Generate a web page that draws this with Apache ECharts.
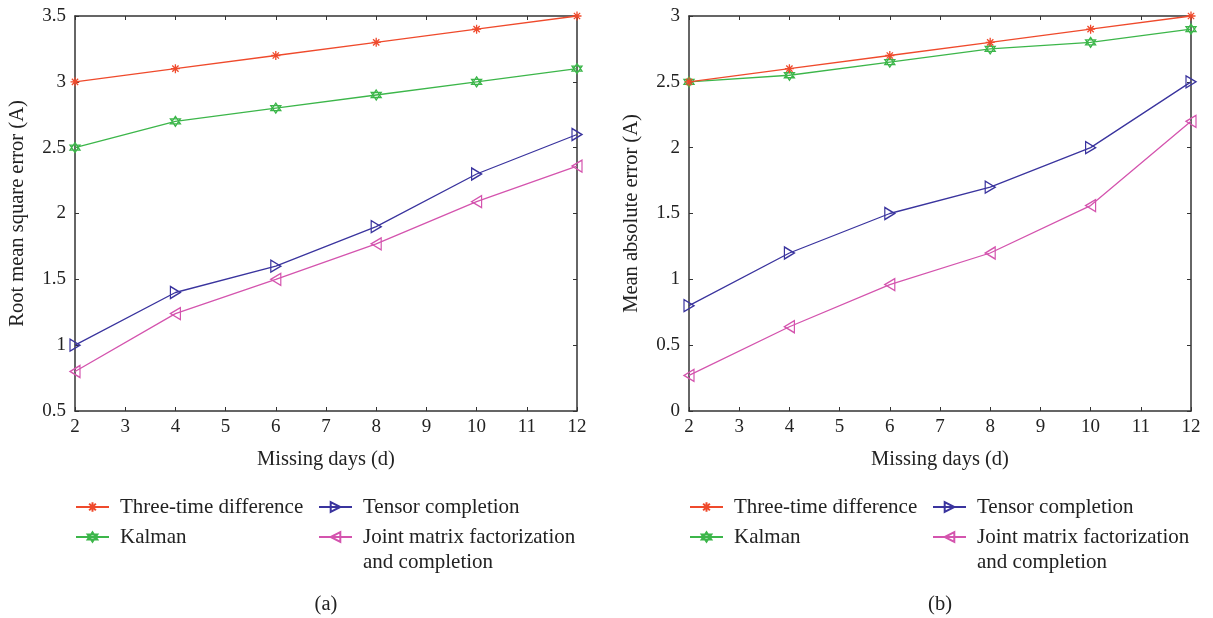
<!DOCTYPE html>
<html>
<head>
<meta charset="utf-8">
<script src="https://cdn.jsdelivr.net/npm/echarts@6/dist/echarts.min.js"></script>
<style>
  html, body { margin: 0; padding: 0; background: #fff; }
  #main { width: 1213px; height: 618px; }
</style>
</head>
<body>
<div id="main"></div>
<script>
// 数据
const days = [2, 4, 6, 8, 10, 12]
const seriesNames = [
  'Three-time difference',
  'Kalman',
  'Tensor completion',
  'Joint matrix factorization and completion'
]
// (a) 均方根误差
const rmseThree = [3.0, 3.1, 3.2, 3.3, 3.4, 3.5]
const rmseKalman = [2.5, 2.7, 2.8, 2.9, 3.0, 3.1]
const rmseTensor = [1.0, 1.4, 1.6, 1.9, 2.3, 2.6]
const rmseJoint = [0.8, 1.24, 1.5, 1.77, 2.09, 2.36]
// (b) 平均绝对误差
const maeThree = [2.5, 2.6, 2.7, 2.8, 2.9, 3.0]
const maeKalman = [2.5, 2.55, 2.65, 2.75, 2.8, 2.9]
const maeTensor = [0.8, 1.2, 1.5, 1.7, 2.0, 2.5]
const maeJoint = [0.27, 0.64, 0.96, 1.2, 1.56, 2.2]

const colors = ['#ef4a2c', '#3cb64a', '#3a349e', '#d454ae']
const symbols = [
  'path://M5,0L5,10M0,5L10,5M1.5,1.5L8.5,8.5M8.5,1.5L1.5,8.5',
  'path://M5,0L9.33,7.5L0.67,7.5Z M5,10L0.67,2.5L9.33,2.5Z',
  'path://M0,0L10,5L0,10Z',
  'path://M10,0L0,5L10,10Z'
]
const symbolSizes = [9, 10, [10, 12], [10, 12]]

const FONT = '"Liberation Serif", "DejaVu Serif", serif'
const AXIS_COLOR = '#333'

const panels = [
  { left: 75, yName: 'Root mean square error (A)', yMin: 0.5, yMax: 3.5, label: '(a)',
    data: [rmseThree, rmseKalman, rmseTensor, rmseJoint] },
  { left: 689, yName: 'Mean absolute error (A)', yMin: 0, yMax: 3, label: '(b)',
    data: [maeThree, maeKalman, maeTensor, maeJoint] }
]

const grid = []
const xAxis = []
const yAxis = []
const series = []
const legend = []
const title = []

const tickLabel = { color: '#222', fontFamily: FONT, fontSize: 19 }
const nameStyle = { color: '#222', fontFamily: FONT, fontSize: 20.5 }

panels.forEach((p, i) => {
  grid.push({ left: p.left, top: 16, width: 502, height: 395 })
  const axisCommon = {
    gridIndex: i,
    type: 'value',
    axisLine: { show: true, onZero: false, lineStyle: { color: AXIS_COLOR, width: 1.5 } },
    axisTick: { show: true, inside: true, length: 4, lineStyle: { color: AXIS_COLOR } },
    splitLine: { show: false }
  }
  // 底部 x 轴
  xAxis.push({
    ...axisCommon,
    min: 2, max: 12, interval: 1,
    position: 'bottom',
    name: 'Missing days (d)',
    nameLocation: 'middle',
    nameGap: 38,
    nameTextStyle: nameStyle,
    axisLabel: { ...tickLabel, margin: 7 }
  })
  // 顶部 x 轴（边框）
  xAxis.push({
    ...axisCommon,
    min: 2, max: 12, interval: 1,
    position: 'top',
    axisLabel: { show: false }
  })
  // 左侧 y 轴
  yAxis.push({
    ...axisCommon,
    min: p.yMin, max: p.yMax, interval: 0.5,
    position: 'left',
    name: p.yName,
    nameLocation: 'middle',
    nameGap: 47,
    nameTextStyle: nameStyle,
    axisLabel: { ...tickLabel, margin: 9 }
  })
  // 右侧 y 轴（边框）
  yAxis.push({
    ...axisCommon,
    min: p.yMin, max: p.yMax, interval: 0.5,
    position: 'right',
    axisLabel: { show: false }
  })

  p.data.forEach((values, k) => {
    series.push({
      type: 'line',
      name: seriesNames[k],
      xAxisIndex: i * 2,
      yAxisIndex: i * 2,
      data: days.map((d, j) => [d, values[j]]),
      symbol: symbols[k],
      symbolSize: symbolSizes[k],
      showAllSymbol: true,
      lineStyle: { color: colors[k], width: 1.3 },
      itemStyle: { color: 'transparent', borderColor: colors[k], borderWidth: 1.3 },
      emphasis: { disabled: true },
      z: 10 - k
    })
  })

  // 图例（每项单独定位）
  const legendPos = [
    { left: p.left, top: 494.5 },
    { left: p.left, top: 524.5 },
    { left: p.left + 243, top: 494.5 },
    { left: p.left + 243, top: 499.5 }
  ]
  seriesNames.forEach((name, k) => {
    const isJoint = k === 3
    legend.push({
      data: [name],
      left: legendPos[k].left,
      top: legendPos[k].top,
      padding: 0,
      itemWidth: 33,
      itemHeight: 12,
      itemGap: 0,
      selectedMode: false,
      // 首行留空，使第一行文字与图标对齐
      formatter: isJoint ? ' \nJoint matrix factorization\nand completion' : '{name}',
      textStyle: {
        color: '#222',
        fontFamily: FONT,
        fontSize: 21,
        lineHeight: 25,
        padding: [0, 0, 0, 6]
      }
    })
  })

  title.push({
    text: p.label,
    left: p.left + 251,
    top: 594,
    textAlign: 'center',
    padding: 0,
    textStyle: { color: '#222', fontFamily: FONT, fontSize: 20.5, fontWeight: 'normal' }
  })
})

const chart = echarts.init(document.getElementById('main'))
chart.setOption({
  animation: false,
  backgroundColor: '#fff',
  title,
  grid,
  xAxis,
  yAxis,
  legend,
  series
})
</script>
</body>
</html>
